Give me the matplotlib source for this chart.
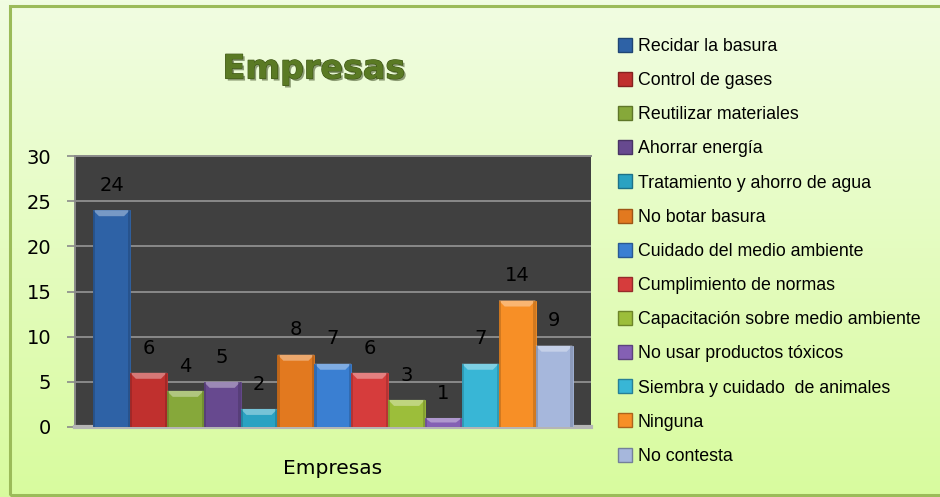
import numpy as np
import matplotlib
matplotlib.use("Agg")
import matplotlib.pyplot as plt
import matplotlib.patheffects as pe
from matplotlib.patches import Rectangle, Polygon
from matplotlib.lines import Line2D
from matplotlib import colors as mcolors
from matplotlib import font_manager as fm

categories = ["Recidar la basura", "Control de gases", "Reutilizar materiales",
              "Ahorrar energía", "Tratamiento y ahorro de agua", "No botar basura",
              "Cuidado del medio ambiente", "Cumplimiento de normas",
              "Capacitación sobre medio ambiente", "No usar productos tóxicos",
              "Siembra y cuidado  de animales", "Ninguna", "No contesta"]
values = [24, 6, 4, 5, 2, 8, 7, 6, 3, 1, 7, 14, 9]
bar_colors = ["#2e62a6", "#c0302e", "#86a83a", "#67498f", "#2aa2c2", "#e2791f",
              "#3a7fd2", "#d63c3c", "#9cbe3a", "#8460b4", "#38b6d6", "#f78f26", "#a6b7dc"]
yticks = [0, 5, 10, 15, 20, 25, 30]
title = "Empresas"
xlabel = "Empresas"

names = {f.name for f in fm.fontManager.ttflist}
legend_font = "Liberation Sans Narrow" if "Liberation Sans Narrow" in names else "Liberation Sans"

fig = plt.figure(figsize=(9.4, 4.97), dpi=100)

# background gradient
bg = fig.add_axes([0, 0, 1, 1], zorder=-10)
grad = np.linspace(0, 1, 256).reshape(-1, 1)
cmap = mcolors.LinearSegmentedColormap.from_list("bg", ["#f1fde2", "#d8fb9e"])
bg.imshow(grad, aspect="auto", cmap=cmap, extent=[0, 1, 0, 1], origin="upper")
bg.set_xlim(0, 1); bg.set_ylim(0, 1)
bg.axis("off")
bg.add_patch(Rectangle((10 / 940, 2 / 497), 1.0, 1 - 8 / 497, fill=False,
                       edgecolor="#9bbb59", linewidth=2.2, transform=bg.transAxes))

ax = fig.add_axes([75 / 940, 1 - 427 / 497, (591 - 75) / 940, (427 - 156) / 497])
ax.set_facecolor("#404040")
x = np.arange(len(values))
bars = ax.bar(x, values, width=1.0, color=bar_colors, edgecolor=bar_colors,
              linewidth=0.6, zorder=3)

# bevel highlights on bar tops
ppu = 271 / 30.0
bh = 6 / ppu
d = 0.16
for xi, v, c in zip(x, values, bar_colors):
    rgb = np.array(mcolors.to_rgb(c))
    light = rgb + (1 - rgb) * 0.35
    dark = rgb * 0.75
    x0, x1 = xi - 0.5, xi + 0.5
    hb = min(bh, v * 0.5)
    ax.add_patch(Polygon([(x0, v), (x1, v), (x1 - d, v - hb), (x0 + d, v - hb)],
                         closed=True, facecolor=light, edgecolor="none", zorder=4))
    ax.add_patch(Polygon([(x0, 0), (x0 + 0.06, 0), (x0 + 0.06, v), (x0, v)],
                         closed=True, facecolor=dark, edgecolor="none", zorder=4, alpha=0.6))
    ax.add_patch(Polygon([(x1 - 0.06, 0), (x1, 0), (x1, v), (x1 - 0.06, v)],
                         closed=True, facecolor=dark, edgecolor="none", zorder=4, alpha=0.6))
    ax.annotate(str(v), (xi, v), xytext=(0, 11), textcoords="offset points",
                ha="center", va="bottom", fontsize=14, color="black", zorder=6)

ax.set_xlim(-0.99, len(values) - 1 + 1.0)
ax.set_ylim(0, 30)
ax.set_yticks(yticks)
ax.set_yticklabels([str(t) for t in yticks], fontsize=14)
ax.set_xticks([])
ax.yaxis.grid(True, color="#8a8a8a", linewidth=1.4, zorder=0)
ax.set_axisbelow(True)
ax.tick_params(axis="y", length=6, width=1.2, color="#8a8a8a", pad=11)
ax.spines["right"].set_visible(False)
ax.spines["top"].set_color("#8a8a8a")
ax.spines["top"].set_linewidth(1.4)
ax.spines["left"].set_color("#8a8a8a")
ax.spines["left"].set_linewidth(1.4)
ax.spines["bottom"].set_color("#b5b5b5")
ax.spines["bottom"].set_linewidth(3)

fig.text(333 / 940, 1 - 468 / 497, xlabel, ha="center", va="center", fontsize=14.5)

t = fig.text(314 / 940, 1 - 69 / 497, title, ha="center", va="center", fontsize=24,
             fontweight="bold", color="#5a7a24")
t.set_path_effects([pe.withSimplePatchShadow(offset=(1.5, -1.5), shadow_rgbFace="#2f3f14", alpha=0.5),
                    pe.Stroke(linewidth=0.8, foreground="#3d5417"), pe.Normal()])

handles = []
for c in bar_colors:
    handles.append(Line2D([0], [0], marker="s", linestyle="none", markersize=10,
                          markerfacecolor=c,
                          markeredgecolor=tuple(np.array(mcolors.to_rgb(c)) * 0.7)))
leg = fig.legend(handles, categories, loc="upper left", bbox_to_anchor=(618 / 940, 1 - 38 / 497),
                 frameon=False, prop={"family": legend_font, "size": 12.8},
                 handlelength=0.8, handletextpad=0.3, labelspacing=0.965, borderpad=0, borderaxespad=0)

fig.savefig("out.png", dpi=100)
